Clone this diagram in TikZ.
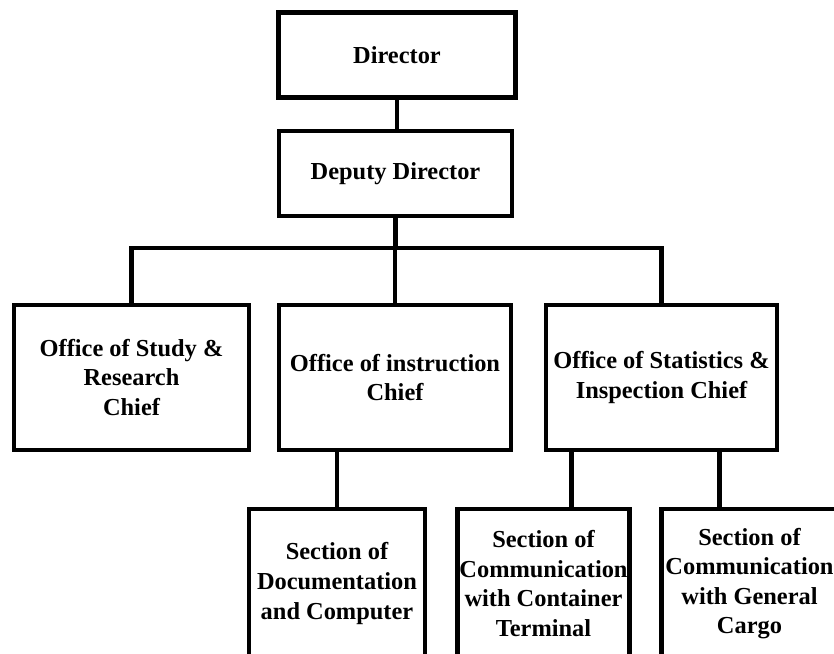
\documentclass[tikz,border=0pt]{standalone}
\usepackage{fontspec}
\setmainfont{Liberation Serif}
\tikzset{
  post/.style={draw, line width=2.4pt, align=center, inner sep=0pt,
    font=\bfseries\fontsize{12.2pt}{14.8pt}\selectfont},
  link/.style={line width=2.4pt}
}
\begin{document}
\begin{tikzpicture}[x=0.5pt,y=-0.5pt]
\useasboundingbox (0,0) rectangle (834,653);
\node[post, minimum width=118.75pt, minimum height=42.5pt] (dir) at (397,55) {Director};
\node[post, minimum width=116.5pt, minimum height=42.5pt] (dep) at (395.5,173.5) {Deputy Director};
\node[post, minimum width=117.5pt, minimum height=72.5pt] (study) at (131.5,377.5) {Office of Study \&\\Research\\Chief};
\node[post, minimum width=116pt, minimum height=72.5pt] (instr) at (395,377.5) {Office of instruction\\Chief};
\node[post, minimum width=115.5pt, minimum height=72.5pt] (stat) at (661.5,377.5) {Office of Statistics \&\\Inspection Chief};
\node[post, minimum width=88pt, minimum height=74.5pt] (doc) at (337,583.5) {Section of\\Documentation\\and Computer};
\node[post, minimum width=86pt, minimum height=74.5pt] (cont) at (543.5,583.5) {Section of\\Communication\\with Container\\Terminal};
\node[post, minimum width=88pt, minimum height=74.5pt] (cargo) at (749.5,583.5) {Section of\\Communication\\with General\\Cargo};
\coordinate (bus) at (0,248);
\draw[link] (dir.south) -- (dir.south |- dep.north);
\draw[link] (dep.south) -- (dep.south |- bus);
\draw[link] (study.north) -- (study.north |- bus) -- (stat.north |- bus) -- (stat.north);
\draw[link] (instr.north) -- (instr.north |- bus);
\draw[link] (doc.north) -- (doc.north |- instr.south);
\draw[link] ([xshift=-45pt]stat.south) -- ([xshift=-45pt]stat.south |- cont.north);
\draw[link] ([xshift=29pt]stat.south) -- ([xshift=29pt]stat.south |- cargo.north);
\end{tikzpicture}
\end{document}
